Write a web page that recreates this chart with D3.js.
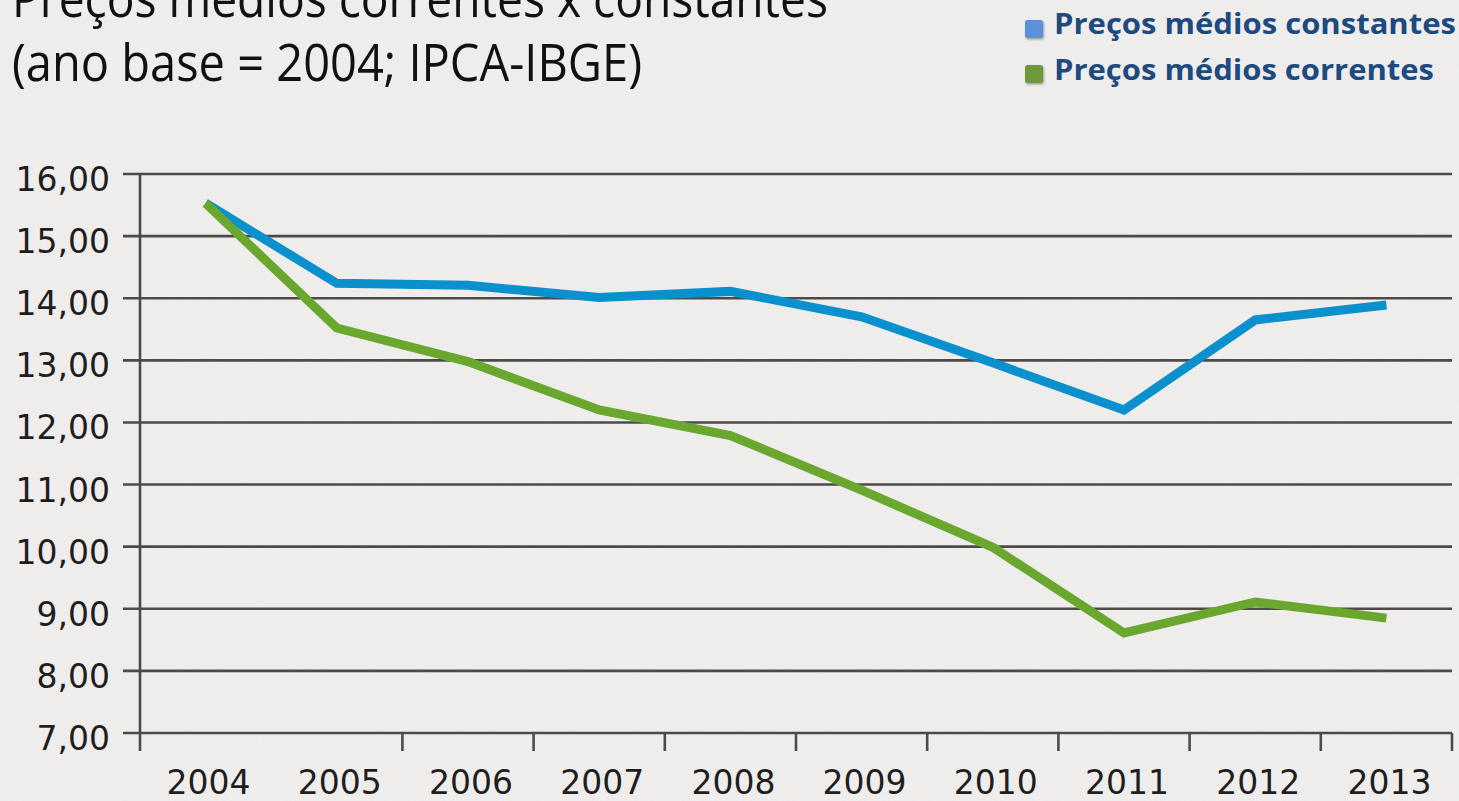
<!DOCTYPE html>
<html><head><meta charset="utf-8">
<script src="https://cdn.jsdelivr.net/npm/d3@7"></script>
<style>html,body{margin:0;padding:0;background:#eeedeb;overflow:hidden}</style>
</head><body>
<script>
const years = ['2004','2005','2006','2007','2008','2009','2010','2011','2012','2013'];
const constantes = [15.53, 14.24, 14.21, 14.01, 14.11, 13.70, 12.96, 12.20, 13.65, 13.89];
const correntes  = [15.53, 13.52, 12.98, 12.20, 11.79, 10.91, 9.99, 8.61, 9.11, 8.85];
const yTicks = [7,8,9,10,11,12,13,14,15,16];
const titleLines = ['Preços médios correntes x constantes', '(ano base = 2004; IPCA-IBGE)'];
const seriesNames = ['Preços médios constantes', 'Preços médios correntes'];
const lineColors = ['#0a90cc', '#6aa72f'];
const legendColors = ['#5b90d8', '#6d9a38'];

(function(){
const W = 1459, H = 801;
const svg = d3.select('body').append('svg').attr('width', W).attr('height', H);

// paper background
const defs = svg.append('defs');
const f = defs.append('filter').attr('id','paper').attr('x',0).attr('y',0).attr('width','100%').attr('height','100%');
f.append('feTurbulence').attr('type','fractalNoise').attr('baseFrequency',0.9).attr('numOctaves',2).attr('seed',3).attr('result','n');
f.append('feColorMatrix').attr('in','n').attr('type','matrix')
 .attr('values','0 0 0 0 0.55  0 0 0 0 0.54  0 0 0 0 0.52  0 0 0 -1.1 0.6');
const sh = defs.append('filter').attr('id','sh').attr('x','-30%').attr('y','-30%').attr('width','170%').attr('height','170%');
sh.append('feDropShadow').attr('dx',1).attr('dy',1.5).attr('stdDeviation',1.2).attr('flood-color','#000').attr('flood-opacity',0.35);
svg.append('rect').attr('width',W).attr('height',H).attr('fill','#efeeec');
svg.append('rect').attr('width',W).attr('height',H).attr('filter','url(#paper)').attr('opacity',0.18);

const pLeft = 140, pRight = 1452, pTop = 174, pBottom = 733;
const x = d3.scaleBand().domain(years).range([pLeft, pRight]).padding(0);
const y = d3.scaleLinear().domain([7,16]).range([pBottom, pTop]);

// gridlines
svg.append('g').selectAll('line').data(yTicks).join('line')
  .attr('x1', pLeft - 17).attr('x2', pRight)
  .attr('y1', d => y(d)).attr('y2', d => y(d))
  .attr('stroke', '#4d4a48').attr('stroke-width', 2.6);

// y labels
svg.append('g').selectAll('text').data(yTicks).join('text')
  .attr('x', 110).attr('y', d => y(d)).attr('dy', 17)
  .attr('text-anchor','end')
  .attr('font-family','"DejaVu Sans", Verdana, sans-serif').attr('font-size', 33)
  .attr('fill','#1e1e1e')
  .text(d => d3.format('.2f')(d).replace('.', ','));

// y axis line
svg.append('line').attr('x1', pLeft).attr('x2', pLeft).attr('y1', pTop).attr('y2', pBottom + 18)
  .attr('stroke','#4d4a48').attr('stroke-width', 2.6);

// x ticks at band boundaries (first interior one absent in reference)
const boundaries = years.slice(2).map(d => x(d)).concat([pRight]);
svg.append('g').selectAll('line').data(boundaries).join('line')
  .attr('x1', d => d).attr('x2', d => d).attr('y1', pBottom).attr('y2', pBottom + 18)
  .attr('stroke','#4d4a48').attr('stroke-width', 2.6);

// x labels
svg.append('g').selectAll('text').data(years).join('text')
  .attr('x', d => x(d) + x.bandwidth()/2 + 3).attr('y', 794)
  .attr('text-anchor','middle')
  .attr('font-family','"DejaVu Sans", Verdana, sans-serif').attr('font-size', 33)
  .attr('fill','#1e1e1e')
  .text(d => d);

// lines
const line = d3.line().x((d,i) => x(years[i]) + x.bandwidth()/2).y(d => y(d));
[constantes, correntes].forEach((s, k) => {
  svg.append('path').datum(s).attr('d', line)
    .attr('fill','none').attr('stroke', lineColors[k]).attr('stroke-width', 9)
    .attr('stroke-linejoin','miter').attr('stroke-linecap','butt');
});

// title
const tb = [17, 81], tw = [816, 630];
titleLines.forEach((t, i) => {
  svg.append('text').attr('x', 12).attr('y', tb[i])
    .attr('font-family','"Open Sans", Lato, sans-serif').attr('font-size', 51)
    .attr('fill','#111')
    .attr('textLength', tw[i]).attr('lengthAdjust','spacingAndGlyphs')
    .text(t);
});

// legend
const lb = [34, 80], lw = [402, 380], sq = [20, 65];
seriesNames.forEach((n, i) => {
  svg.append('rect').attr('x', 1025).attr('y', sq[i]).attr('width', 18).attr('height', 18)
    .attr('rx', 2.5).attr('fill', legendColors[i]).attr('filter','url(#sh)');
  svg.append('text').attr('x', 1054).attr('y', lb[i])
    .attr('font-family','"Open Sans", Lato, sans-serif').attr('font-weight','bold').attr('font-size', 28)
    .attr('fill','#1d4a80')
    .attr('textLength', lw[i]).attr('lengthAdjust','spacingAndGlyphs')
    .text(n);
});
})();
</script>
</body></html>
